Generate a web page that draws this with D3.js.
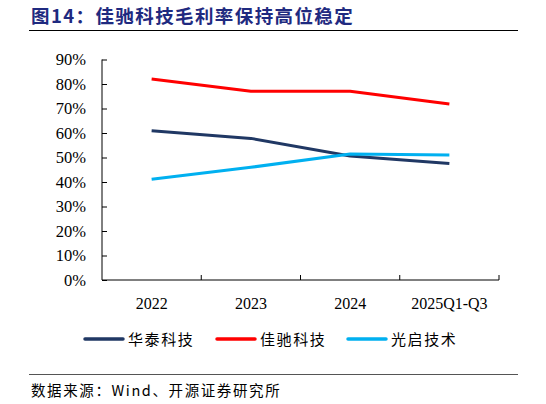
<!DOCTYPE html>
<html>
<head>
<meta charset="utf-8">
<script src="https://cdn.jsdelivr.net/npm/d3@7"></script>
<style>
  body { margin: 0; background: #fff; }
  svg { display: block; }
</style>
</head>
<body>
<div id="chart"></div>
<script>
// chart data
var categories = ["2022", "2023", "2024", "2025Q1-Q3"];
var seriesNames = ["华泰科技", "佳驰科技", "光启技术"];
var huatai = [60.9, 57.8, 50.6, 47.6];
var jiachi = [82.0, 77.0, 77.0, 71.8];
var guangqi = [41.1, 46.0, 51.4, 51.0];
var yTicks = [0, 10, 20, 30, 40, 50, 60, 70, 80, 90];

var colors = ["#203864", "#FF0000", "#00B0F0"];
var seriesValues = [huatai, jiachi, guangqi];

var svgWidth = 546;
var svgHeight = 404;

var margin = { top: 59.5, right: 47, bottom: 124, left: 102 };
var width = svgWidth - margin.left - margin.right;
var height = svgHeight - margin.top - margin.bottom;

var serif = "'Liberation Serif', 'Times New Roman', serif";
var cjk = "'Noto Sans CJK SC', sans-serif";

var svg = d3.select("#chart")
  .append("svg")
  .attr("width", svgWidth)
  .attr("height", svgHeight);

// title and rules
svg.append("text")
  .attr("x", 31)
  .attr("y", 23)
  .attr("fill", "#1f2a80")
  .style("font-family", cjk)
  .style("font-weight", "bold")
  .style("font-size", "18.5px")
  .style("letter-spacing", "1.4px")
  .text("图14：佳驰科技毛利率保持高位稳定");

svg.append("line")
  .attr("x1", 29).attr("x2", 518)
  .attr("y1", 30.5).attr("y2", 30.5)
  .attr("stroke", "#000")
  .attr("stroke-width", 1.2);

svg.append("line")
  .attr("x1", 29).attr("x2", 518)
  .attr("y1", 374.5).attr("y2", 374.5)
  .attr("stroke", "#555")
  .attr("stroke-width", 1);

svg.append("text")
  .attr("x", 31)
  .attr("y", 396)
  .attr("fill", "#000")
  .style("font-family", cjk)
  .style("font-size", "14.5px")
  .style("letter-spacing", "1.6px")
  .text("数据来源：Wind、开源证券研究所");

var chartGroup = svg.append("g")
  .attr("transform", `translate(${margin.left}, ${margin.top})`);

// scales
var xBand = d3.scaleBand()
  .domain(categories)
  .range([0, width]);

var yLinearScale = d3.scaleLinear()
  .domain([0, 90])
  .range([height, 0]);

// axes
var bottomAxis = d3.axisBottom(xBand)
  .tickSize(0)
  .tickPadding(18);

var leftAxis = d3.axisLeft(yLinearScale)
  .tickValues(yTicks)
  .tickSize(-5)
  .tickPadding(16)
  .tickFormat(d => d + "%");

var xAxis = chartGroup.append("g")
  .attr("transform", `translate(0, ${height})`)
  .call(bottomAxis);

xAxis.attr("font-family", serif).attr("font-size", 16);
xAxis.select(".domain").attr("stroke", "#000").attr("d", `M0,0H${width}`);
xAxis.selectAll("text").attr("fill", "#000");

// inward ticks between categories
var boundaries = categories.map(c => xBand(c) + xBand.bandwidth());
xAxis.selectAll(".bound")
  .data(boundaries)
  .enter()
  .append("line")
  .attr("x1", d => d).attr("x2", d => d)
  .attr("y1", 0).attr("y2", -5)
  .attr("stroke", "#000");

var yAxis = chartGroup.append("g")
  .call(leftAxis);

yAxis.attr("font-family", serif).attr("font-size", 16.5);
yAxis.select(".domain").attr("stroke", "#000").attr("d", `M0,0V${height}`);
yAxis.selectAll("line").attr("stroke", "#000");
yAxis.selectAll("text").attr("fill", "#000");

// lines
var lineGen = d3.line()
  .x((d, i) => xBand(categories[i]) + xBand.bandwidth() / 2)
  .y(d => yLinearScale(d));

chartGroup.selectAll(".series")
  .data(seriesValues)
  .enter()
  .append("path")
  .attr("class", "series")
  .attr("d", d => lineGen(d))
  .attr("fill", "none")
  .attr("stroke", (d, i) => colors[i])
  .attr("stroke-width", 3)
  .attr("stroke-linejoin", "round");

// legend
var legendX = [85, 217, 348];
var legend = svg.append("g");
var items = legend.selectAll("g")
  .data(seriesNames)
  .enter()
  .append("g")
  .attr("transform", (d, i) => `translate(${legendX[i]}, 339)`);

items.append("line")
  .attr("x1", 0).attr("x2", 38)
  .attr("y1", 0).attr("y2", 0)
  .attr("stroke", (d, i) => colors[i])
  .attr("stroke-width", 3.5)
  .attr("stroke-linecap", "round");

items.append("text")
  .attr("x", 43)
  .attr("y", 5.5)
  .attr("fill", "#000")
  .style("font-family", cjk)
  .style("font-size", "15px")
  .style("letter-spacing", "1.6px")
  .text(d => d);
</script>
</body>
</html>
